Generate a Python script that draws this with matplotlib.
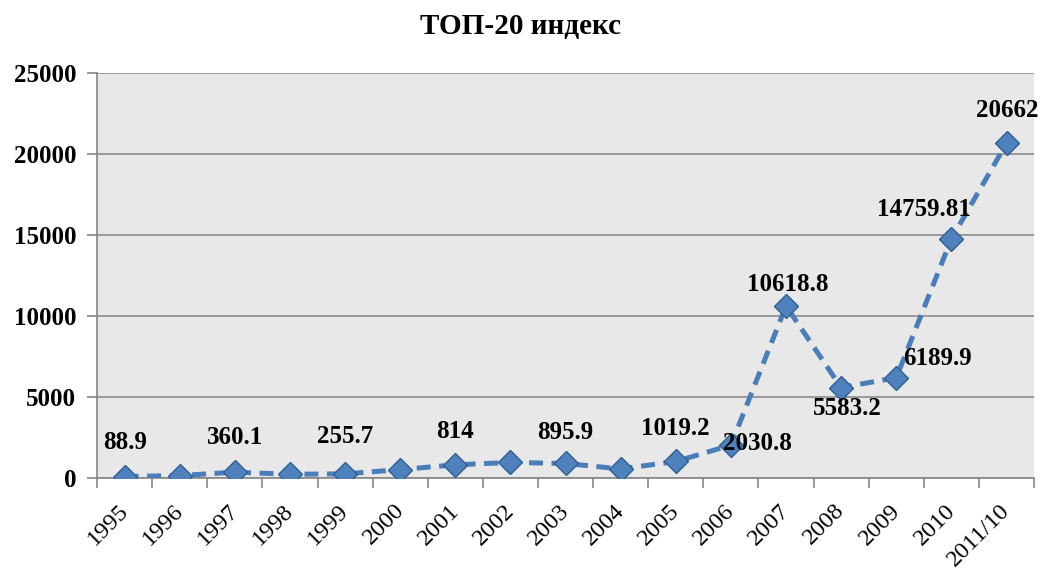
import matplotlib
matplotlib.use('Agg')
import matplotlib.pyplot as plt
import matplotlib.transforms as mtransforms
import numpy as np

# data
years = ['1995', '1996', '1997', '1998', '1999', '2000', '2001', '2002', '2003',
         '2004', '2005', '2006', '2007', '2008', '2009', '2010', '2011/10']
index_values = [88.9, 150, 360.1, 230, 255.7, 520, 814, 960, 895.9,
                560, 1019.2, 2030.8, 10618.8, 5583.2, 6189.9, 14759.81, 20662]
# labelled points: year -> label text
point_labels = {'1995': '88.9', '1997': '360.1', '1999': '255.7', '2001': '814',
                '2003': '895.9', '2005': '1019.2', '2006': '2030.8',
                '2007': '10618.8', '2008': '5583.2', '2009': '6189.9',
                '2010': '14759.81', '2011/10': '20662'}

# label offsets in pixels (dx, dy)
label_offsets = {'1995': (0, 34), '1997': (0, 35), '1999': (0, 37), '2001': (0, 33),
                 '2003': (0, 31), '2005': (0, 33), '2006': (27, 2),
                 '2007': (2, 21), '2008': (6, -21), '2009': (41, 19),
                 '2010': (-27, 29), '2011/10': (1, 33)}

serif = 'Liberation Serif'
fig = plt.figure(figsize=(10.4, 5.73), dpi=100)
ax = fig.add_axes([0.0933, 0.1658, 0.901, 0.7068])
ax.set_facecolor('#e8e8e8')

x = np.arange(len(years))
line, = ax.plot(x, index_values, color='#4a7ebb', linewidth=3.6,
                linestyle='--', marker='D', markersize=12.5,
                markerfacecolor='#4f81bd', markeredgecolor='#2f5f95',
                markeredgewidth=1.0, zorder=3)
line.set_dashes((2.8, 1.7))

for i, yr in enumerate(years):
    if yr in point_labels:
        dx, dy = label_offsets[yr]
        ax.annotate(point_labels[yr], (x[i], index_values[i]),
                    xytext=(dx, dy), textcoords='offset pixels',
                    ha='center', va='center', fontsize=18,
                    fontweight='bold', family=serif, zorder=4)

ax.set_xlim(-0.5, len(years) - 0.5)
ax.set_ylim(0, 25000)
ax.set_yticks(np.arange(0, 25001, 5000))
ax.yaxis.grid(True, color='#8c8c8c', linewidth=1.2)
ax.set_axisbelow(True)

for side in ['top', 'right']:
    ax.spines[side].set_visible(False)
for side in ['left', 'bottom']:
    ax.spines[side].set_color('#868686')
    ax.spines[side].set_linewidth(1.2)

ax.tick_params(axis='y', length=7, color='#868686', width=1.2, pad=8)
for lab in ax.get_yticklabels():
    lab.set_fontsize(18)
    lab.set_fontweight('bold')
    lab.set_family(serif)

# x ticks between categories
ax.set_xticks(x)
ax.set_xticks(np.arange(-0.5, len(years)), minor=True)
ax.tick_params(axis='x', which='major', length=0, pad=0)
ax.tick_params(axis='x', which='minor', length=7, color='#868686', width=1.2)
ax.set_xticklabels(years, rotation=45, ha='right', va='top',
                   rotation_mode='anchor', fontsize=17.5, family=serif)
shift = mtransforms.ScaledTranslation(-7 / 100, -22 / 100, fig.dpi_scale_trans)
for lab in ax.get_xticklabels():
    lab.set_transform(lab.get_transform() + shift)

fig.text(0.5, 0.953, 'ТОП-20 индекс', ha='center', va='center',
         fontsize=21, fontweight='bold', family=serif)

fig.savefig('out.png', dpi=100)
